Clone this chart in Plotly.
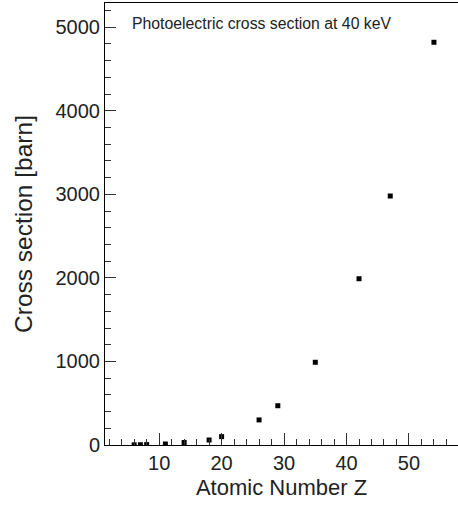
import plotly.graph_objects as go

Z = [6, 7, 8, 11, 14, 18, 20, 26, 29, 35, 42, 47, 54]
sigma = [2, 3, 5, 12, 30, 60, 100, 300, 470, 990, 1990, 2980, 4820]
x_ticks = [10, 20, 30, 40, 50]
y_ticks = [0, 1000, 2000, 3000, 4000, 5000]
note = "Photoelectric cross section at 40 keV"

fig = go.Figure()
fig.add_trace(go.Scatter(
    x=Z, y=sigma, mode="markers",
    marker=dict(symbol="square", size=5, color="black", line=dict(width=0)),
    showlegend=False,
))

font = "Liberation Sans, Arial, sans-serif"
fig.update_layout(
    width=458, height=510,
    margin=dict(l=105, r=0, t=3, b=65),
    paper_bgcolor="white", plot_bgcolor="white",
    font=dict(family=font, color="#222"),
    xaxis=dict(
        range=[1.33, 57.85], tickvals=x_ticks,
        ticks="inside", ticklen=12, tickwidth=1, tickcolor="#333",
        minor=dict(dtick=2, tick0=0, ticks="inside", ticklen=6, tickcolor="#333", tickwidth=1, showgrid=False),
        showline=True, linecolor="black", linewidth=1, mirror=True,
        showgrid=False, zeroline=False,
        tickfont=dict(size=20, family=font, color="#222"),
        title=dict(text="Atomic Number Z", font=dict(size=22, family=font, color="#222"), standoff=6),
    ),
    yaxis=dict(
        range=[0, 5290], tickvals=y_ticks,
        ticks="inside", ticklen=11, tickwidth=1, tickcolor="#333",
        minor=dict(dtick=200, tick0=0, ticks="inside", ticklen=6, tickcolor="#333", tickwidth=1, showgrid=False),
        showline=True, linecolor="black", linewidth=1, mirror=False,
        showgrid=False, zeroline=False,
        tickfont=dict(size=20, family=font, color="#222"),
        title=dict(text="Cross section [barn]", font=dict(size=24.5, family=font, color="#222"), standoff=15),
    ),
    annotations=[dict(
        x=5.4, y=5050, xref="x", yref="y", text=note, showarrow=False,
        xanchor="left", yanchor="middle",
        font=dict(size=15.8, family=font, color="#222"),
    )],
)

fig.write_html("out.html")
